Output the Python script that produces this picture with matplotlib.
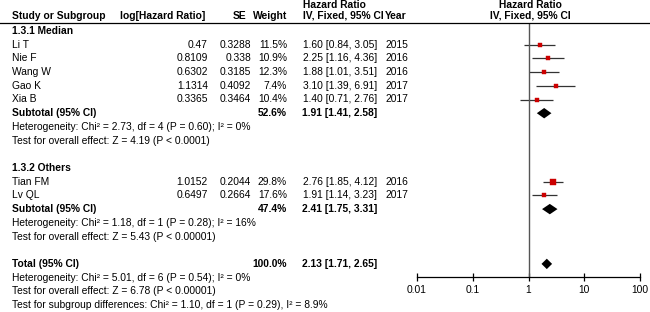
import matplotlib
matplotlib.use("Agg")
import matplotlib.pyplot as plt
import numpy as np
from matplotlib.transforms import blended_transform_factory
from matplotlib.lines import Line2D
from matplotlib.patches import Polygon

plt.rcParams['font.family'] = ['Liberation Sans', 'DejaVu Sans']

# ---------------- data ----------------
studies_g1 = ["Li T", "Nie F", "Wang W", "Gao K", "Xia B"]
loghr_g1 = ["0.47", "0.8109", "0.6302", "1.1314", "0.3365"]
se_g1 = ["0.3288", "0.338", "0.3185", "0.4092", "0.3464"]
weight_g1 = [11.5, 10.9, 12.3, 7.4, 10.4]
hr_g1 = [1.60, 2.25, 1.88, 3.10, 1.40]
lo_g1 = [0.84, 1.16, 1.01, 1.39, 0.71]
hi_g1 = [3.05, 4.36, 3.51, 6.91, 2.76]
year_g1 = ["2015", "2016", "2016", "2017", "2017"]

studies_g2 = ["Tian FM", "Lv QL"]
loghr_g2 = ["1.0152", "0.6497"]
se_g2 = ["0.2044", "0.2664"]
weight_g2 = [29.8, 17.6]
hr_g2 = [2.76, 1.91]
lo_g2 = [1.85, 1.14]
hi_g2 = [4.12, 3.23]
year_g2 = ["2016", "2017"]

sub_weight = [52.6, 47.4]
sub_hr = [1.91, 2.41]
sub_lo = [1.41, 1.75]
sub_hi = [2.58, 3.31]
total_hr, total_lo, total_hi = 2.13, 1.71, 2.65

group_labels = ["1.3.1 Median", "1.3.2 Others"]
het_g1 = "Heterogeneity: Chi² = 2.73, df = 4 (P = 0.60); I² = 0%"
eff_g1 = "Test for overall effect: Z = 4.19 (P < 0.0001)"
het_g2 = "Heterogeneity: Chi² = 1.18, df = 1 (P = 0.28); I² = 16%"
eff_g2 = "Test for overall effect: Z = 5.43 (P < 0.00001)"
het_tot = "Heterogeneity: Chi² = 5.01, df = 6 (P = 0.54); I² = 0%"
eff_tot = "Test for overall effect: Z = 6.78 (P < 0.00001)"
sub_diff = "Test for subgroup differences: Chi² = 1.10, df = 1 (P = 0.29), I² = 8.9%"

xticks = [0.01, 0.1, 1, 10, 100]
xticklabels = ["0.01", "0.1", "1", "10", "100"]

# ---------------- layout ----------------
W, H = 650, 312
fig = plt.figure(figsize=(W / 100, H / 100), dpi=100)
row_h = 13.7
y0 = 31.0
ax_left, ax_right = 417, 640
ax = fig.add_axes([ax_left / W, 0, (ax_right - ax_left) / W, 1])
ax.set_xscale('log')
ax.set_xlim(0.01, 100)
ax.set_ylim((H - y0) / row_h, -y0 / row_h)
ax.patch.set_alpha(0)

def prow(py):
    return (py - y0) / row_h

tr = blended_transform_factory(fig.transFigure, ax.transData)
FS = 7.4
RED = "#cc0000"

def txt(px, row, s, ha='left', bold=False):
    ax.text(px / W, row, s, transform=tr, ha=ha, va='center', fontsize=FS,
            fontweight='bold' if bold else 'normal', color='black', clip_on=False)

# header
txt(303, prow(5), "Hazard Ratio", bold=True)
txt(12, prow(16), "Study or Subgroup", bold=True)
txt(120, prow(16), "log[Hazard Ratio]", bold=True)
txt(246, prow(16), "SE", ha='right', bold=True)
txt(287, prow(16), "Weight", ha='right', bold=True)
txt(303, prow(16), "IV, Fixed, 95% CI", bold=True)
txt(385, prow(16), "Year", bold=True)
txt(530, prow(5), "Hazard Ratio", ha='center', bold=True)
txt(530, prow(16), "IV, Fixed, 95% CI", ha='center', bold=True)
fig.add_artist(Line2D([0, 1], [1 - 22.5 / H, 1 - 22.5 / H], transform=fig.transFigure,
                      color='black', lw=0.9))

def study_rows(start, names, lhr, se, wt, hr, lo, hi, yr):
    for i, n in enumerate(names):
        r = start + i
        txt(12, r, n)
        txt(208, r, lhr[i], ha='right')
        txt(251, r, se[i], ha='right')
        txt(287, r, f"{wt[i]:.1f}%", ha='right')
        txt(377, r, f"{hr[i]:.2f} [{lo[i]:.2f}, {hi[i]:.2f}]", ha='right')
        txt(385, r, yr[i])
        ax.plot([lo[i], hi[i]], [r, r], color='#333333', lw=0.9, solid_capstyle='butt')
        ax.plot([hr[i]], [r], marker='s', ms=(0.4 + 0.98 * np.sqrt(wt[i])) * 0.72,
                color=RED, mec=RED, mew=0.3, ls='none')

def diamond(r, est, lo, hi, half=0.38):
    ax.add_patch(Polygon([(lo, r), (est, r - half), (hi, r), (est, r + half)],
                         closed=True, color='black', lw=0))

# group 1
txt(12, 0, group_labels[0], bold=True)
study_rows(1, studies_g1, loghr_g1, se_g1, weight_g1, hr_g1, lo_g1, hi_g1, year_g1)
txt(12, 6, "Subtotal (95% CI)", bold=True)
txt(287, 6, f"{sub_weight[0]:.1f}%", ha='right', bold=True)
txt(377, 6, f"{sub_hr[0]:.2f} [{sub_lo[0]:.2f}, {sub_hi[0]:.2f}]", ha='right', bold=True)
diamond(6, sub_hr[0], sub_lo[0], sub_hi[0])
txt(12, 7, het_g1)
txt(12, 8, eff_g1)

# group 2
txt(12, 10, group_labels[1], bold=True)
study_rows(11, studies_g2, loghr_g2, se_g2, weight_g2, hr_g2, lo_g2, hi_g2, year_g2)
txt(12, 13, "Subtotal (95% CI)", bold=True)
txt(287, 13, f"{sub_weight[1]:.1f}%", ha='right', bold=True)
txt(377, 13, f"{sub_hr[1]:.2f} [{sub_lo[1]:.2f}, {sub_hi[1]:.2f}]", ha='right', bold=True)
diamond(13, sub_hr[1], sub_lo[1], sub_hi[1])
txt(12, 14, het_g2)
txt(12, 15, eff_g2)

# total
txt(12, 17, "Total (95% CI)", bold=True)
txt(287, 17, f"{sum(sub_weight):.1f}%", ha='right', bold=True)
txt(377, 17, f"{total_hr:.2f} [{total_lo:.2f}, {total_hi:.2f}]", ha='right', bold=True)
diamond(17, total_hr, total_lo, total_hi)
txt(12, 18, het_tot)
txt(12, 19, eff_tot)
txt(12, 20, sub_diff)

# axis
axis_row = prow(277)
ax.vlines(1, prow(22.5), axis_row, color='#555555', lw=1.0)
for s in ['top', 'right', 'left']:
    ax.spines[s].set_visible(False)
ax.spines['bottom'].set_position(('data', axis_row))
ax.spines['bottom'].set_bounds(0.01, 100)
ax.spines['bottom'].set_linewidth(0.9)
ax.set_yticks([])
ax.set_xticks(xticks)
ax.set_xticklabels(xticklabels)
ax.xaxis.set_minor_locator(matplotlib.ticker.NullLocator())
ax.tick_params(axis='x', direction='inout', length=6, width=0.9, labelsize=FS, pad=3)

fig.savefig("out.png", dpi=100)
